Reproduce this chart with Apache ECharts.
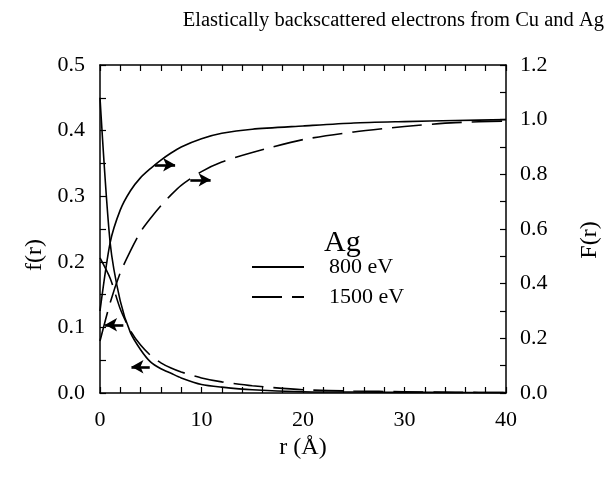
<!DOCTYPE html>
<html>
<head>
<meta charset="utf-8">
<script src="https://cdn.jsdelivr.net/npm/echarts@6/dist/echarts.min.js"></script>
<style>
html,body{margin:0;padding:0;background:#fff;}
#chart{width:616px;height:481px;}
</style>
</head>
<body>
<div id="chart"></div>
<script>
// r (Å)
var rValues = [0, 1, 2, 3, 4, 5, 6, 7, 8, 10, 12, 15, 20, 25, 30, 35, 40];
// f(r), left axis
var f800  = [0.45, 0.229, 0.14, 0.092, 0.066, 0.047, 0.037, 0.03, 0.023, 0.013, 0.009, 0.005, 0.002, 0.0015, 0.001, 0.0008, 0.0005];
var f1500 = [0.206, 0.175, 0.128, 0.095, 0.073, 0.057, 0.046, 0.038, 0.032, 0.023, 0.017, 0.011, 0.005, 0.003, 0.002, 0.001, 0.0008];
// F(r), right axis
var F800  = [0.30, 0.55, 0.67, 0.74, 0.788, 0.822, 0.852, 0.878, 0.9, 0.93, 0.95, 0.965, 0.977, 0.988, 0.993, 0.997, 1.0];
var F1500 = [0.19, 0.33, 0.44, 0.52, 0.59, 0.64, 0.685, 0.725, 0.76, 0.81, 0.845, 0.88, 0.927, 0.955, 0.975, 0.989, 0.995];
// arrows: [rFrom, rTo, value]
var arrowsF = [[5.4, 7.4, 0.835], [8.9, 10.9, 0.78]];
var arrowsf = [[2.3, 0.5, 0.104], [4.9, 3.1, 0.04]];

var seriesNames = ['800 eV', '1500 eV'];
var titleText = 'Elastically backscattered electrons from Cu and Ag';
var legendTitle = 'Ag';

function pairs(xs, ys) { return xs.map(function (x, i) { return [x, ys[i]]; }); }
function arrowData(list) {
  return list.map(function (a) { return [{ coord: [a[0], a[2]] }, { coord: [a[1], a[2]] }]; });
}

var FONT = '"Liberation Serif", "Times New Roman", serif';
var black = '#000';

var chart = echarts.init(document.getElementById('chart'), null, { renderer: 'canvas' });

var tickCommon = { show: true, inside: true, length: 6, lineStyle: { color: black, width: 1.2 } };
var minorCommon = { show: true, length: 6, lineStyle: { color: black, width: 1.2 } };

var arrowStyle = {
  silent: true,
  symbol: ['none', 'arrow'],
  symbolSize: [10, 12],
  label: { show: false },
  lineStyle: { color: black, width: 2.6, type: 'solid' },
  emphasis: { disabled: true }
};

var option = {
  backgroundColor: '#fff',
  animation: false,
  textStyle: { fontFamily: FONT, color: black },
  title: [
    { text: titleText, right: 7, top: 5, textStyle: { fontFamily: FONT, fontSize: 20.5, fontWeight: 'normal', color: black } },
    { text: legendTitle, left: 324, top: 228, padding: 0, textStyle: { fontFamily: FONT, fontSize: 30, fontWeight: 'normal', color: black } }
  ],
  legend: {
    data: seriesNames,
    orient: 'vertical',
    left: 251,
    top: 255,
    padding: 0,
    itemWidth: 52,
    itemHeight: 14,
    itemGap: 6,
    itemStyle: { opacity: 0 },
    textStyle: { fontFamily: FONT, fontSize: 22, lineHeight: 24, color: black, padding: [0, 0, 0, 20] },
    selectedMode: false
  },
  grid: { left: 100, right: 110, top: 65, bottom: 88, containLabel: false },
  xAxis: [
    {
      type: 'value', min: 0, max: 40, interval: 10,
      name: 'r (Å)', nameLocation: 'middle', nameGap: 42,
      nameTextStyle: { fontFamily: FONT, fontSize: 24, color: black },
      axisLine: { show: true, onZero: false, lineStyle: { color: black, width: 1.5 } },
      axisTick: tickCommon,
      minorTick: Object.assign({ splitNumber: 5 }, minorCommon),
      axisLabel: { fontFamily: FONT, fontSize: 22, color: black, margin: 16 },
      splitLine: { show: false }
    },
    {
      type: 'value', min: 0, max: 40, interval: 10, position: 'top',
      axisLine: { show: true, onZero: false, lineStyle: { color: black, width: 1.5 } },
      axisTick: tickCommon,
      minorTick: Object.assign({ splitNumber: 5 }, minorCommon),
      axisLabel: { show: false },
      splitLine: { show: false }
    }
  ],
  yAxis: [
    {
      type: 'value', min: 0, max: 0.5, interval: 0.1, position: 'left',
      name: 'f(r)', nameLocation: 'middle', nameGap: 52, nameRotate: 90,
      nameTextStyle: { fontFamily: FONT, fontSize: 24, color: black, padding: [0, 52, 0, 0] },
      axisLine: { show: true, onZero: false, lineStyle: { color: black, width: 1.5 } },
      axisTick: tickCommon,
      minorTick: Object.assign({ splitNumber: 2 }, minorCommon),
      axisLabel: { fontFamily: FONT, fontSize: 22, color: black, margin: 15, formatter: function (v) { return v.toFixed(1); } },
      splitLine: { show: false }
    },
    {
      type: 'value', min: 0, max: 1.2, interval: 0.2, position: 'right',
      name: 'F(r)', nameLocation: 'middle', nameGap: 72, nameRotate: 90,
      nameTextStyle: { fontFamily: FONT, fontSize: 24, color: black, padding: [0, 22, 0, 0] },
      axisLine: { show: true, onZero: false, lineStyle: { color: black, width: 1.5 } },
      axisTick: tickCommon,
      minorTick: Object.assign({ splitNumber: 2 }, minorCommon),
      axisLabel: { fontFamily: FONT, fontSize: 22, color: black, margin: 14, formatter: function (v) { return v.toFixed(1); } },
      splitLine: { show: false }
    }
  ],
  series: [
    {
      name: seriesNames[0], type: 'line', xAxisIndex: 0, yAxisIndex: 0,
      data: pairs(rValues, f800), symbol: 'none', smooth: 0.25,
      lineStyle: { color: black, width: 1.6, type: 'solid' },
      itemStyle: { color: black },
      markLine: Object.assign({ data: arrowData(arrowsf) }, arrowStyle)
    },
    {
      name: seriesNames[1], type: 'line', xAxisIndex: 0, yAxisIndex: 0,
      data: pairs(rValues, f1500), symbol: 'none', smooth: 0.25,
      lineStyle: { color: black, width: 1.6, type: [30, 10] },
      itemStyle: { color: black }
    },
    {
      name: 'F ' + seriesNames[0], type: 'line', xAxisIndex: 0, yAxisIndex: 1,
      data: pairs(rValues, F800), symbol: 'none', smooth: 0.25,
      lineStyle: { color: black, width: 1.6, type: 'solid' },
      itemStyle: { color: black },
      markLine: Object.assign({ data: arrowData(arrowsF) }, arrowStyle)
    },
    {
      name: 'F ' + seriesNames[1], type: 'line', xAxisIndex: 0, yAxisIndex: 1,
      data: pairs(rValues, F1500), symbol: 'none', smooth: 0.25,
      lineStyle: { color: black, width: 1.6, type: [30, 10] },
      itemStyle: { color: black }
    }
  ]
};
chart.setOption(option);
</script>
</body>
</html>
